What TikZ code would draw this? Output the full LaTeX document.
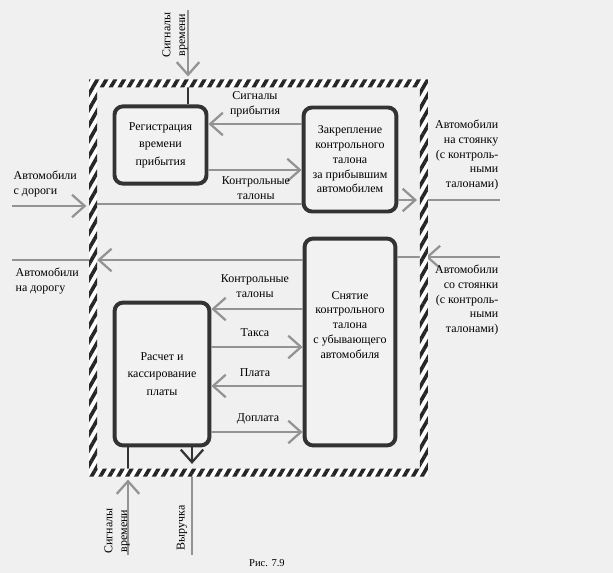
\documentclass[tikz,border=0pt]{standalone}
\usepackage{fontspec}
\setmainfont{Liberation Serif}
\usetikzlibrary{positioning,arrows.meta,patterns.meta}

\newcommand{\lblfont}{\fontsize{8.5}{10.5}\selectfont}

\tikzset{
  block/.style={rectangle, rounded corners=6pt, draw=black!80, line width=2.8pt, fill=gray!10, align=center, font=\lblfont, inner sep=2pt},
  lbl/.style={align=center, font=\lblfont, inner sep=1pt},
  flow/.style={draw=gray!85, line width=1.6pt, -{Straight Barb[length=9pt,width=16pt]}},
  line/.style={draw=gray!85, line width=1.6pt},
  wire/.style={draw=black!80, line width=1.6pt},
  toframe/.style={shorten >=0.17cm}
}

\begin{document}
\begin{tikzpicture}[x=0.025cm, y=-0.025cm]
  % \draw[help lines] (0,0) grid (613,573);
  \fill[gray!12] (0,0) rectangle (613,573);
  \useasboundingbox (0,0) rectangle (613,573);

  \node [minimum width=8.25cm, minimum height=9.72cm, inner sep=0] (frame) at (258.5,278) {};

  \node [block, minimum width=2.3cm, minimum height=1.93cm] (reg) at (160.5,145) {Регистрация\\[2pt]времени\\[2pt]прибытия};
  \node [block, minimum width=2.32cm, minimum height=2.6cm] (zak) at (350,159.5) {Закрепление\\контрольного\\талона\\за прибывшим\\автомобилем};
  \node [block, minimum width=2.27cm, minimum height=5.17cm] (snyat) at (350,342) {Снятие\\контрольного\\талона\\с убывающего\\автомобиля\\[14pt]};
  \node [block, minimum width=2.37cm, minimum height=3.57cm] (rasch) at (162,374) {Расчет и\\[2pt]кассирование\\[2pt]платы};

  \coordinate (tTop) at (188,10);
  \coordinate (inRoad) at (12,206);
  \coordinate (outPark) at (500,200);
  \coordinate (outRoad) at (12,260);
  \coordinate (inPark) at (500,257);
  \coordinate (tBot) at (128,555);
  \coordinate (revOut) at (192,555);

  % time signals into registration
  \draw[flow, toframe] (tTop) -- (tTop |- frame.north);
  \draw[wire] (tTop |- frame.north) -- (reg.north -| tTop);

  \draw[flow] (zak.west |- 0,124) -- (reg.east |- 0,124);
  \draw[flow] (reg.east |- 0,170) -- (zak.west |- 0,170);

  % cars in and out
  \draw[flow, toframe] (inRoad) -- (inRoad -| frame.west);
  \draw[line] (frame.west |- 0,204) -- (zak.west |- 0,204);
  \draw[flow, toframe] (zak.east |- outPark) -- (frame.east |- outPark);
  \draw[line] (frame.east |- outPark) -- (outPark);

  \draw[flow, shorten >=0.1cm] (snyat.west |- outRoad) -- (frame.west |- outRoad);
  \draw[line] (frame.west |- outRoad) -- (outRoad);
  \draw[flow, shorten >=0.05cm] (inPark) -- (inPark -| frame.east);
  \draw[line] (frame.east |- inPark) -- (snyat.east |- inPark);

  \draw[flow] (snyat.west |- 0,309) -- (rasch.east |- 0,309);
  \draw[flow] (rasch.east |- 0,347) -- (snyat.west |- 0,347);
  \draw[flow] (snyat.west |- 0,386) -- (rasch.east |- 0,386);
  \draw[flow] (rasch.east |- 0,432) -- (snyat.west |- 0,432);

  % bottom
  \draw[flow, toframe] (tBot) -- (tBot |- frame.south);
  \draw[wire] (tBot |- frame.south) -- (rasch.south -| tBot);
  \draw[wire, -{Straight Barb[length=9pt,width=16pt]}, shorten >=0.22cm] (rasch.south -| revOut) -- (revOut |- frame.south);
  \draw[line] (revOut |- frame.south) -- (revOut);

  % hatched border
  \fill[white, even odd rule]
    ([shift={(-0.1cm,0.1cm)}]frame.north west) rectangle ([shift={(0.1cm,-0.1cm)}]frame.south east)
    ([shift={(0.1cm,-0.1cm)}]frame.north west) rectangle ([shift={(-0.1cm,0.1cm)}]frame.south east);
  \fill[pattern={Lines[angle=60,distance=5.5pt,line width=2.6pt]}, pattern color=black!85, even odd rule]
    ([shift={(-0.1cm,0.1cm)}]frame.north west) rectangle ([shift={(0.1cm,-0.1cm)}]frame.south east)
    ([shift={(0.1cm,-0.1cm)}]frame.north west) rectangle ([shift={(-0.1cm,0.1cm)}]frame.south east);

  \node [lbl, rotate=90] (sigTop) at (175,35) {Сигналы\\времени};
  \node [lbl] (sigArr) at (255,104) {Сигналы\\прибытия};
  \node [lbl] (talUp) at (256,188) {Контрольные\\талоны};
  \node [lbl, align=left, anchor=west] (carsIn) at (12,184) {Автомобили\\с дороги};
  \node [lbl, align=right, anchor=east] (carsPark) at (500,155) {Автомобили\\на стоянку\\(с контроль-\\ными\\талонами)};
  \node [lbl, align=left, anchor=west] (carsOut) at (14,281) {Автомобили\\на дорогу};
  \node [lbl, align=right, anchor=east] (carsBack) at (500,300) {Автомобили\\со стоянки\\(с контроль-\\ными\\талонами)};
  \node [lbl] (talLow) at (255,286) {Контрольные\\талоны};
  \node [lbl] (taxa) at (255,333) {Такса};
  \node [lbl] (pay) at (255,373) {Плата};
  \node [lbl] (extra) at (258,419) {Доплата};
  \node [lbl, rotate=90] (sigBot) at (117,531) {Сигналы\\времени};
  \node [lbl, rotate=90] (revenue) at (182,528) {Выручка};
  \node [lbl, font=\fontsize{7.5}{9}\selectfont] (caption) at (267,563) {Рис. 7.9};

\end{tikzpicture}
\end{document}
